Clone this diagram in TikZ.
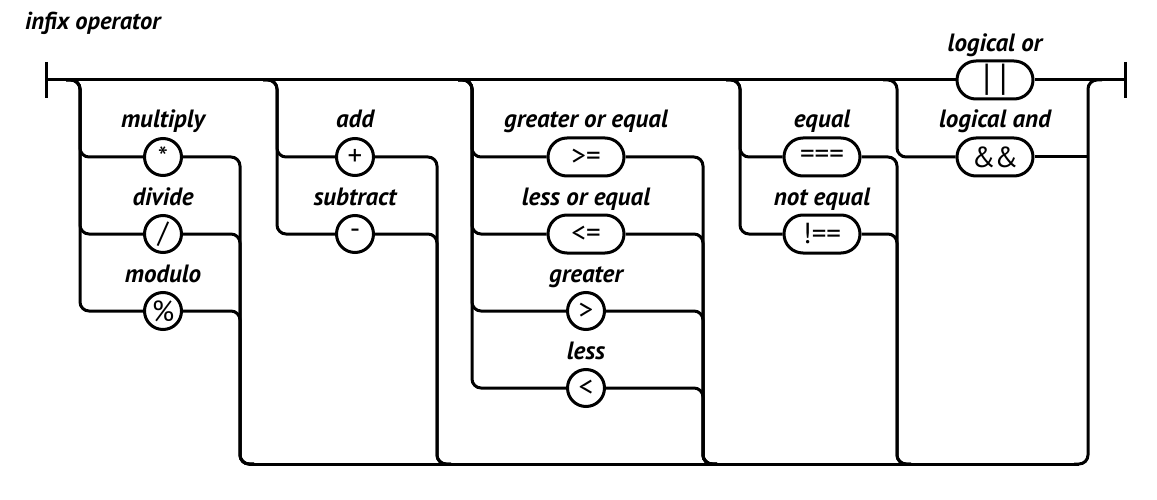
\documentclass[tikz,border=0pt]{standalone}
\usepackage{fontspec}
\usetikzlibrary{shapes.misc,calc}
\newfontfamily\lblfont{PT Sans Bold Italic}
\newfontfamily\opfont{PT Sans}
\begin{document}
\begin{tikzpicture}[x=1pt,y=-1pt,
  rr/.style={line width=3pt, rounded corners=9pt},
  ln/.style={line width=3pt},
  lbl/.style={font=\lblfont\fontsize{25}{25}\selectfont, anchor=base, inner sep=0pt},
  ttl/.style={font=\lblfont\fontsize{24.5}{24.5}\selectfont, anchor=base west, inner sep=0pt},
  circ/.style={circle, draw, line width=3pt, minimum size=37pt, inner sep=0pt, fill=white, font=\opfont\fontsize{29}{29}\selectfont},
  pill/.style={rounded rectangle, draw, line width=3pt, minimum width=76pt, minimum height=38pt, inner sep=0pt, fill=white, font=\opfont\fontsize{29}{29}\selectfont}]
\useasboundingbox (0,0) rectangle (1157,500);

\node[ttl] (title) at (25,30) {infix operator};

% operator nodes
\node[circ] (mul) at (163,157) {\raisebox{-0.45ex}{*}};
\node[circ] (div) at (163,234) {/};
\node[circ] (mod) at (163,311) {\%};
\node[circ] (add) at (355,157) {+};
\node[circ] (sub) at (355,234) {-};
\node[pill] (ge) at (586,157) {>=};
\node[pill] (le) at (586,234) {<=};
\node[circ] (gt) at (586,311) {>};
\node[circ] (lt) at (586,388) {<};
\node[pill] (eq) at (822,157) {===};
\node[pill] (ne) at (822,234) {!==};
\node[pill] (or) at (995,80) {\scalebox{1.2}[1.3]{|\kern7pt|}};
\node[pill] (and) at (995,157) {\&\kern-1pt\&};

% labels
\node[lbl] (lmul) at (163,128) {multiply};
\node[lbl] (ldiv) at (163,205) {divide};
\node[lbl] (lmod) at (163,282) {modulo};
\node[lbl] (ladd) at (355,128) {add};
\node[lbl] (lsub) at (355,205) {subtract};
\node[lbl] (lge) at (586,128) {greater or equal};
\node[lbl] (lle) at (586,205) {less or equal};
\node[lbl] (lgt) at (586,282) {greater};
\node[lbl] (llt) at (586,359) {less};
\node[lbl] (leq) at (822,128) {equal};
\node[lbl] (lne) at (822,205) {not equal};
\node[lbl] (lor) at (995,52) {logical or};
\node[lbl] (land) at (995,128) {logical and};

% key coordinates
\coordinate (S) at (46,80);
\coordinate (E) at (1125,80);
\coordinate (c1) at (80,80);
\coordinate (c2) at (277,80);
\coordinate (c3) at (472,80);
\coordinate (c4) at (740,80);
\coordinate (c5) at (897,80);
\coordinate (d1) at (240,464);
\coordinate (d2) at (437,464);
\coordinate (d3) at (703,464);
\coordinate (d4) at (897,464);
\coordinate (d5) at (1088,464);

% terminators and main line
\draw[ln] ($(S)+(0,-18)$) -- ($(S)+(0,18)$);
\draw[ln] ($(E)+(0,-18)$) -- ($(E)+(0,18)$);
\draw[ln] (S) -- (or.west);
\draw[ln] (or.east) -- (E);

% left branches
\foreach \c/\n in {c1/mul,c1/div,c1/mod,c2/add,c2/sub,c3/ge,c3/le,c3/gt,c3/lt,c4/eq,c4/ne,c5/and}{
  \draw[rr] ($(\c)-(14,0)$) -- (\c) -- (\c |- \n) -- (\n.west);
}
% right branches
\foreach \d/\n in {d1/mul,d1/div,d1/mod,d2/add,d2/sub,d3/ge,d3/le,d3/gt,d3/lt,d4/eq,d4/ne}{
  \draw[rr] (\n.east) -- (\d |- \n) -- (\d) -- ($(\d)+(14,0)$);
}
\draw[ln] (and.east) -- (d5 |- and);

% bottom return line and exit
\draw[ln] ($(d1)+(9,0)$) -- ($(d5)-(9,0)$);
\draw[rr] ($(d5)-(14,0)$) -- (d5) -- (d5 |- E) -- ($(d5 |- E)+(14,0)$);
\end{tikzpicture}
\end{document}
